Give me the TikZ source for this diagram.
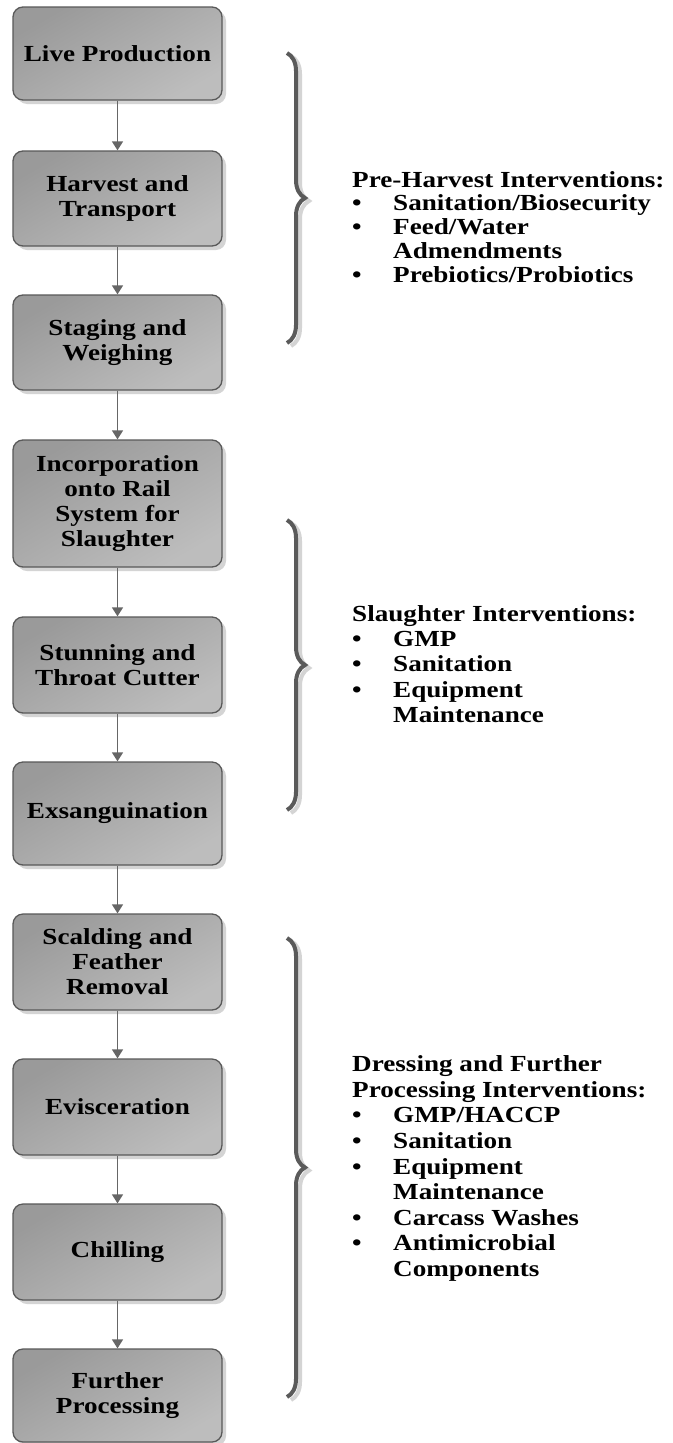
\documentclass[tikz,border=0pt]{standalone}
\usepackage{fontspec}
\setmainfont{Liberation Serif}[FakeStretch=1.18]
\usetikzlibrary{arrows.meta,shadows,decorations.pathreplacing}
\definecolor{boxdark}{HTML}{9A9A9A}
\definecolor{boxlight}{HTML}{BDBDBD}
\definecolor{boxline}{HTML}{595959}
\definecolor{arrowc}{HTML}{666666}
\definecolor{bracec}{HTML}{5A5A5A}
\definecolor{shadowc}{HTML}{D4D4D4}
\newcommand\bulitem{\makebox[41pt][l]{•}}
\newcommand\contitem{\hspace*{41pt}}
\begin{document}
\begin{tikzpicture}[x=1pt,y=-1pt,
  stagebox/.style={draw=boxline, line width=1.3pt, rounded corners=10pt,
    minimum width=209pt, inner sep=2pt, align=center,
    font=\fontsize{23}{25}\selectfont\bfseries,
    top color=boxdark, bottom color=boxlight, shading angle=30,
    drop shadow={shadow xshift=4pt, shadow yshift=-4pt, fill=shadowc, opacity=1}},
  flow/.style={draw=arrowc, line width=1.5pt, -{Triangle[width=11pt,length=9pt]}},
  note/.style={inner sep=0pt, anchor=base west, font=\fontsize{23}{25}\selectfont\bfseries},
  bracepath/.style={decorate, decoration={brace, amplitude=18pt}, line width=4pt},
]
\fill[white] (0,0) rectangle (672,1443);
\useasboundingbox (0,0) rectangle (672,1443);

% stages
\node[stagebox, minimum height=93pt]  (b1)  at (117.5,53.5)   {Live Production};
\node[stagebox, minimum height=95pt]  (b2)  at (117.5,198.5)  {Harvest and\\Transport};
\node[stagebox, minimum height=95pt]  (b3)  at (117.5,342.5)  {Staging and\\Weighing};
\node[stagebox, minimum height=127pt] (b4)  at (117.5,503.5)  {Incorporation\\onto Rail\\System for\\Slaughter};
\node[stagebox, minimum height=96pt]  (b5)  at (117.5,665)    {Stunning and\\Throat Cutter};
\node[stagebox, minimum height=103pt] (b6)  at (117.5,813.5)  {Exsanguination};
\node[stagebox, minimum height=96pt]  (b7)  at (117.5,962)    {Scalding and\\Feather\\Removal};
\node[stagebox, minimum height=96pt]  (b8)  at (117.5,1107)   {Evisceration};
\node[stagebox, minimum height=96pt]  (b9)  at (117.5,1252)   {Chilling};
\node[stagebox, minimum height=93pt]  (b10) at (117.5,1395.5) {Further\\Processing};

% connectors
\draw[flow] (b1) -- (b2);
\draw[flow] (b2) -- (b3);
\draw[flow] (b3) -- (b4);
\draw[flow] (b4) -- (b5);
\draw[flow] (b5) -- (b6);
\draw[flow] (b6) -- (b7);
\draw[flow] (b7) -- (b8);
\draw[flow] (b8) -- (b9);
\draw[flow] (b9) -- (b10);

% braces
\coordinate (p1t) at (287,53);   \coordinate (p1b) at (287,343);
\coordinate (p2t) at (287,520);  \coordinate (p2b) at (287,810);
\coordinate (p3t) at (287,938);  \coordinate (p3b) at (287,1397);
\foreach \t/\b in {p1t/p1b,p2t/p2b,p3t/p3b}{
  \draw[bracepath, draw=shadowc, transform canvas={xshift=4pt,yshift=-3pt}] (\t) -- (\b);
  \draw[bracepath, draw=bracec] (\t) -- (\b);
}

% intervention texts
\node[note] (pre) at (352,187) {\vtop{\baselineskip=23.8pt
  \hbox{Pre-Harvest Interventions:}
  \hbox{\bulitem Sanitation/Biosecurity}
  \hbox{\bulitem Feed/Water}
  \hbox{\contitem Admendments}
  \hbox{\bulitem Prebiotics/Probiotics}}};
\node[note] (sla) at (352,621) {\vtop{\baselineskip=25.4pt
  \hbox{Slaughter Interventions:}
  \hbox{\bulitem GMP}
  \hbox{\bulitem Sanitation}
  \hbox{\bulitem Equipment}
  \hbox{\contitem Maintenance}}};
\node[note] (dre) at (352,1071.7) {\vtop{\baselineskip=25.6pt
  \hbox{Dressing and Further}
  \hbox{Processing Interventions:}
  \hbox{\bulitem GMP/HACCP}
  \hbox{\bulitem Sanitation}
  \hbox{\bulitem Equipment}
  \hbox{\contitem Maintenance}
  \hbox{\bulitem Carcass Washes}
  \hbox{\bulitem Antimicrobial}
  \hbox{\contitem Components}}};
\end{tikzpicture}
\end{document}
